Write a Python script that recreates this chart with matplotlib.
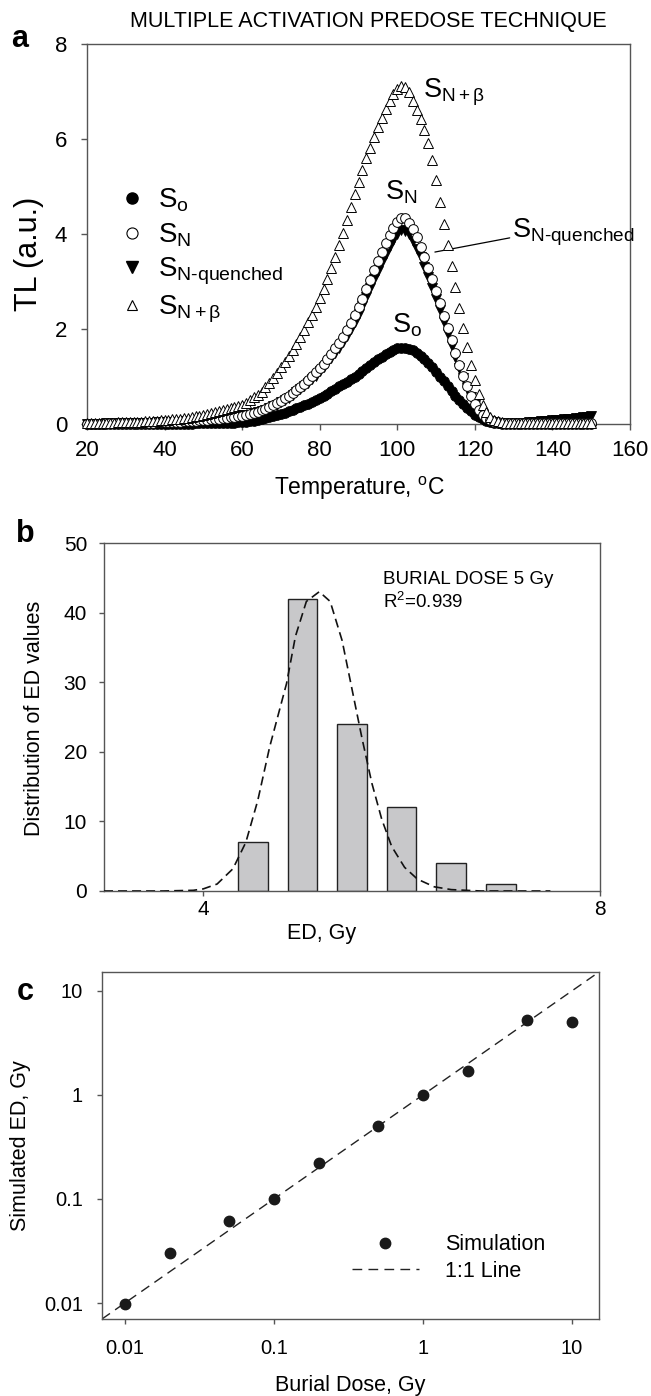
import numpy as np
import matplotlib
matplotlib.use('Agg')
import matplotlib.pyplot as plt
from matplotlib.lines import Line2D

plt.rcParams['font.family'] = ['Liberation Sans', 'DejaVu Sans']
plt.rcParams['mathtext.fontset'] = 'custom'
plt.rcParams['mathtext.rm'] = 'Liberation Sans'
plt.rcParams['mathtext.it'] = 'Liberation Sans:italic'
plt.rcParams['mathtext.bf'] = 'Liberation Sans:bold'
plt.rcParams['lines.scale_dashes'] = False

W, H = 651, 1396
SPINE = '#555555'

# ---- panel a : glow curves, one value per degree from 20 to 150 C
temp = np.arange(20, 151)
s_o = [0.01, 0.01, 0.01, 0.01, 0.01, 0.01, 0.01, 0.01, 0.01, 0.01,
       0.01, 0.01, 0.01, 0.01, 0.01, 0.01, 0.01, 0.01, 0.01, 0.01,
       0.01, 0.01, 0.01, 0.01, 0.01, 0.01, 0.01, 0.01, 0.02, 0.02,
       0.02, 0.02, 0.02, 0.02, 0.02, 0.02, 0.02, 0.03, 0.03, 0.04,
       0.04, 0.05, 0.06, 0.07, 0.08, 0.10, 0.12, 0.14, 0.16, 0.19,
       0.21, 0.24, 0.27, 0.30, 0.33, 0.36, 0.40, 0.43, 0.47, 0.51,
       0.55, 0.59, 0.64, 0.69, 0.74, 0.79, 0.84, 0.89, 0.95, 1.00,
       1.06, 1.12, 1.18, 1.24, 1.30, 1.36, 1.42, 1.47, 1.52, 1.56,
       1.59, 1.60, 1.60, 1.58, 1.55, 1.50, 1.44, 1.37, 1.29, 1.20,
       1.10, 1.00, 0.90, 0.80, 0.70, 0.60, 0.51, 0.42, 0.34, 0.27,
       0.20, 0.15, 0.10, 0.07, 0.05, 0.03, 0.02, 0.01, 0.01, 0.01,
       0.01, 0.01, 0.01, 0.01, 0.01, 0.01, 0.01, 0.01, 0.01, 0.01,
       0.01, 0.01, 0.01, 0.01, 0.01, 0.01, 0.01, 0.01, 0.01, 0.01,
       0.01]
s_n = [0.01, 0.01, 0.01, 0.01, 0.01, 0.02, 0.02, 0.02, 0.02, 0.02,
       0.02, 0.02, 0.02, 0.03, 0.03, 0.03, 0.03, 0.03, 0.04, 0.04,
       0.04, 0.04, 0.05, 0.05, 0.05, 0.06, 0.06, 0.07, 0.07, 0.08,
       0.08, 0.09, 0.10, 0.10, 0.11, 0.12, 0.13, 0.14, 0.15, 0.16,
       0.17, 0.19, 0.21, 0.24, 0.26, 0.29, 0.32, 0.36, 0.40, 0.44,
       0.49, 0.54, 0.59, 0.65, 0.71, 0.78, 0.85, 0.93, 1.01, 1.09,
       1.18, 1.27, 1.37, 1.48, 1.59, 1.71, 1.84, 1.98, 2.13, 2.29,
       2.46, 2.64, 2.84, 3.04, 3.24, 3.44, 3.63, 3.81, 3.98, 4.13,
       4.26, 4.34, 4.33, 4.24, 4.10, 3.93, 3.73, 3.52, 3.29, 3.05,
       2.80, 2.54, 2.28, 2.02, 1.76, 1.50, 1.25, 1.02, 0.80, 0.60,
       0.43, 0.29, 0.19, 0.12, 0.08, 0.05, 0.04, 0.03, 0.02, 0.02,
       0.02, 0.02, 0.02, 0.02, 0.02, 0.02, 0.02, 0.02, 0.02, 0.02,
       0.02, 0.02, 0.02, 0.02, 0.02, 0.02, 0.02, 0.02, 0.02, 0.02,
       0.02]
s_nq = [0.01, 0.01, 0.01, 0.01, 0.01, 0.02, 0.02, 0.02, 0.02, 0.02,
        0.02, 0.02, 0.02, 0.03, 0.03, 0.03, 0.03, 0.03, 0.04, 0.04,
        0.04, 0.04, 0.05, 0.05, 0.05, 0.06, 0.06, 0.07, 0.07, 0.08,
        0.08, 0.09, 0.10, 0.10, 0.11, 0.12, 0.13, 0.14, 0.15, 0.16,
        0.16, 0.18, 0.20, 0.23, 0.25, 0.27, 0.30, 0.34, 0.38, 0.41,
        0.46, 0.51, 0.55, 0.61, 0.67, 0.73, 0.80, 0.87, 0.95, 1.02,
        1.11, 1.19, 1.29, 1.39, 1.49, 1.61, 1.73, 1.86, 2.00, 2.15,
        2.31, 2.48, 2.67, 2.86, 3.05, 3.23, 3.41, 3.58, 3.74, 3.88,
        4.00, 4.08, 4.07, 3.99, 3.85, 3.69, 3.51, 3.31, 3.09, 2.87,
        2.63, 2.39, 2.14, 1.90, 1.65, 1.41, 1.18, 0.96, 0.75, 0.56,
        0.40, 0.27, 0.18, 0.11, 0.07, 0.05, 0.03, 0.02, 0.02, 0.02,
        0.02, 0.02, 0.03, 0.03, 0.04, 0.04, 0.05, 0.06, 0.06, 0.07,
        0.08, 0.08, 0.09, 0.10, 0.11, 0.11, 0.12, 0.13, 0.14, 0.15,
        0.16]
s_nb = [0.02, 0.02, 0.02, 0.03, 0.03, 0.03, 0.03, 0.03, 0.04, 0.04,
        0.04, 0.04, 0.05, 0.05, 0.05, 0.06, 0.06, 0.07, 0.07, 0.08,
        0.08, 0.09, 0.10, 0.10, 0.11, 0.12, 0.13, 0.14, 0.16, 0.17,
        0.19, 0.21, 0.23, 0.25, 0.27, 0.29, 0.31, 0.33, 0.35, 0.37,
        0.40, 0.45, 0.50, 0.56, 0.62, 0.68, 0.77, 0.87, 0.97, 1.08,
        1.19, 1.31, 1.43, 1.56, 1.69, 1.83, 1.98, 2.14, 2.30, 2.47,
        2.65, 2.85, 3.06, 3.28, 3.52, 3.77, 4.03, 4.30, 4.56, 4.84,
        5.10, 5.35, 5.59, 5.82, 6.04, 6.25, 6.45, 6.63, 6.80, 6.95,
        7.06, 7.12, 7.10, 6.98, 6.80, 6.62, 6.42, 6.18, 5.92, 5.55,
        5.13, 4.68, 4.22, 3.77, 3.33, 2.89, 2.45, 2.02, 1.62, 1.25,
        0.92, 0.63, 0.41, 0.25, 0.15, 0.09, 0.06, 0.04, 0.03, 0.02,
        0.02, 0.02, 0.02, 0.02, 0.02, 0.02, 0.02, 0.02, 0.02, 0.02,
        0.02, 0.02, 0.02, 0.02, 0.02, 0.02, 0.02, 0.02, 0.02, 0.02,
        0.02]

# ---- panel b : histogram of ED values + fitted curve
ed_bins = [4.5, 5.0, 5.5, 6.0, 6.5, 7.0]
ed_counts = [7, 42, 24, 12, 4, 1]
fit_x = [3.0, 3.6, 3.9, 4.0, 4.14, 4.3, 4.43, 4.55, 4.67, 4.84, 4.93, 5.04, 5.17,
         5.28, 5.40, 5.50, 5.60, 5.70, 5.80, 5.90, 6.03, 6.16, 6.33, 6.5, 6.8, 7.5]
fit_y = [0, 0, 0.1, 0.3, 1.0, 3.2, 7, 13, 20.7, 29.8, 36.6, 41.6, 43,
         41.6, 36, 29, 22, 15.5, 10.3, 6.4, 3.4, 1.7, 0.6, 0.2, 0, 0]

# ---- panel c : simulated vs burial dose
burial = [0.01, 0.02, 0.05, 0.1, 0.2, 0.5, 1, 2, 5, 10]
sim_ed = [0.0098, 0.030, 0.061, 0.099, 0.22, 0.50, 0.99, 1.70, 5.2, 5.0]
sim_err = [0.0004, 0.001, 0.002, 0.003, 0.006, 0.01, 0.02, 0.05, 0.4, 0.25]

fig = plt.figure(figsize=(W / 100, H / 100), dpi=100)


def box(l, t, r, b):
    return fig.add_axes([l / W, 1 - b / H, (r - l) / W, (b - t) / H])


def style(ax, size, ln, xpad, ypad):
    for s in ax.spines.values():
        s.set_color(SPINE)
        s.set_linewidth(1)
    ax.tick_params(direction='out', length=ln, width=1, color=SPINE, labelsize=size)
    ax.tick_params(axis='x', pad=xpad)
    ax.tick_params(axis='y', pad=ypad)
    ax.minorticks_off()


def ftext(x, y, s, **kw):
    fig.text(x / W, 1 - y / H, s, **kw)


# ================= panel a
ax1 = box(87, 44, 630, 424)
ax1.plot(temp, s_o, 'o', ms=7, mfc='k', mec='k', mew=0.6, clip_on=False, zorder=3)
ax1.plot(temp, s_nq, 'v', ms=7, mfc='k', mec='k', mew=0.6, clip_on=False, zorder=4)
ax1.plot(temp, s_n, 'o', ms=7, mfc='white', mec='k', mew=0.7, clip_on=False, zorder=5)
ax1.plot(temp, s_nb, '^', ms=6.5, mfc='white', mec='k', mew=0.7, clip_on=False, zorder=6)
ax1.set_xlim(20, 160)
ax1.set_ylim(0, 8)
ax1.set_xticks(range(20, 161, 20))
ax1.set_yticks(range(0, 9, 2))
style(ax1, 16, 4.3, 7, 10)

leg_a = [Line2D([], [], ls='none', marker='o', ms=8, mfc='k', mec='k'),
         Line2D([], [], ls='none', marker='o', ms=8, mfc='white', mec='k', mew=0.8),
         Line2D([], [], ls='none', marker='v', ms=8, mfc='k', mec='k'),
         Line2D([], [], ls='none', marker='^', ms=7, mfc='white', mec='k', mew=0.8)]
ax1.legend(leg_a, [r'$\mathregular{S_o}$', r'$\mathregular{S_N}$',
                   r'$\mathregular{S_{N\text{-}quenched}}$', r'$\mathregular{S_{N+\beta}}$'],
           loc='center left', bbox_to_anchor=(118 / W, 1 - 256 / H),
           bbox_transform=fig.transFigure, frameon=False, fontsize=20,
           handlelength=1.0, handletextpad=0.45, labelspacing=0.25, borderpad=0,
           borderaxespad=0)

ax1.text(106.6, 6.88, r'$\mathregular{S_{N+\beta}}$', fontsize=19.5, va='baseline')
ax1.text(96.8, 4.72, r'$\mathregular{S_N}$', fontsize=19.5, va='baseline')
ax1.text(98.6, 1.92, r'$\mathregular{S_o}$', fontsize=19.5, va='baseline')
ax1.annotate(r'$\mathregular{S_{N\text{-}quenched}}$', xy=(109.7, 3.62), xytext=(129.7, 3.92),
             fontsize=19.5, va='baseline', ha='left',
             arrowprops=dict(arrowstyle='-', lw=0.9, color='k', shrinkA=0, shrinkB=0,
                             relpos=(0, 0.35)))

ftext(368, 22, 'MULTIPLE ACTIVATION PREDOSE TECHNIQUE', ha='center', va='center', fontsize=15.5)
ftext(20, 47, 'a', ha='center', va='baseline', fontsize=22, weight='bold')
ftext(360, 495, r'Temperature, $\mathregular{^o}$C', ha='center', va='baseline', fontsize=16.5)
ftext(29, 254, 'TL (a.u.)', ha='center', va='center', rotation=90, fontsize=22)

# ================= panel b
ax2 = box(104, 543, 600, 891)
ax2.bar(ed_bins, ed_counts, width=0.3, color='#c8c8ca', edgecolor='#222222', lw=1, zorder=2)
ax2.plot(fit_x, fit_y, color='#111111', lw=1.2, dashes=(6.5, 3.6), zorder=3)
ax2.set_xlim(3, 8)
ax2.set_ylim(0, 50)
ax2.set_xticks([4, 8])
ax2.set_yticks(range(0, 51, 10))
style(ax2, 15, 3.6, 3, 8.6)
ax2.text(383 / W, 1 - 584 / H, 'BURIAL DOSE 5 Gy', transform=fig.transFigure,
         fontsize=13.5, va='baseline')
ax2.text(383 / W, 1 - 608 / H, r'R$\mathregular{^2}$=0.939', transform=fig.transFigure,
         fontsize=13.5, va='baseline')

ftext(25, 542, 'b', ha='center', va='baseline', fontsize=22, weight='bold')
ftext(322, 939, 'ED, Gy', ha='center', va='baseline', fontsize=15.5)
ftext(35, 718, 'Distribution of ED values', ha='center', va='center', rotation=90, fontsize=15.5)

# ================= panel c
ax3 = box(102, 972, 599, 1319)
lims = [0.00702, 15.2]
ax3.set_xscale('log')
ax3.set_yscale('log')
ax3.set_xlim(lims)
ax3.set_ylim(lims)
ax3.plot(lims, lims, color='#222222', lw=1, dashes=(7, 4.5), zorder=2)
ax3.errorbar(burial, sim_ed, yerr=sim_err, fmt='o', ms=7.5, color='#1a1a1a',
             ecolor='#1a1a1a', elinewidth=1, capsize=3, zorder=3)
ax3.set_xticks([0.01, 0.1, 1, 10])
ax3.set_xticklabels(['0.01', '0.1', '1', '10'])
ax3.set_yticks([0.01, 0.1, 1, 10])
ax3.set_yticklabels(['0.01', '0.1', '1', '10'])
style(ax3, 14.5, 3.6, 11, 10)

leg_c = [Line2D([], [], ls='none', marker='o', ms=7.5, color='#1a1a1a'),
         Line2D([], [], color='#222222', lw=1, dashes=(7, 4.5))]
ax3.legend(leg_c, ['Simulation', '1:1 Line'], loc='center left',
           bbox_to_anchor=(352 / W, 1 - 1258 / H), bbox_transform=fig.transFigure,
           frameon=False, fontsize=15.5, handlelength=3.1, handletextpad=1.2,
           labelspacing=0.25, borderpad=0, borderaxespad=0)

ftext(25, 1000, 'c', ha='center', va='baseline', fontsize=22, weight='bold')
ftext(350, 1391, 'Burial Dose, Gy', ha='center', va='baseline', fontsize=15.5)
ftext(21, 1146, 'Simulated ED, Gy', ha='center', va='center', rotation=90, fontsize=15.5)

fig.savefig('out.png', dpi=100)
